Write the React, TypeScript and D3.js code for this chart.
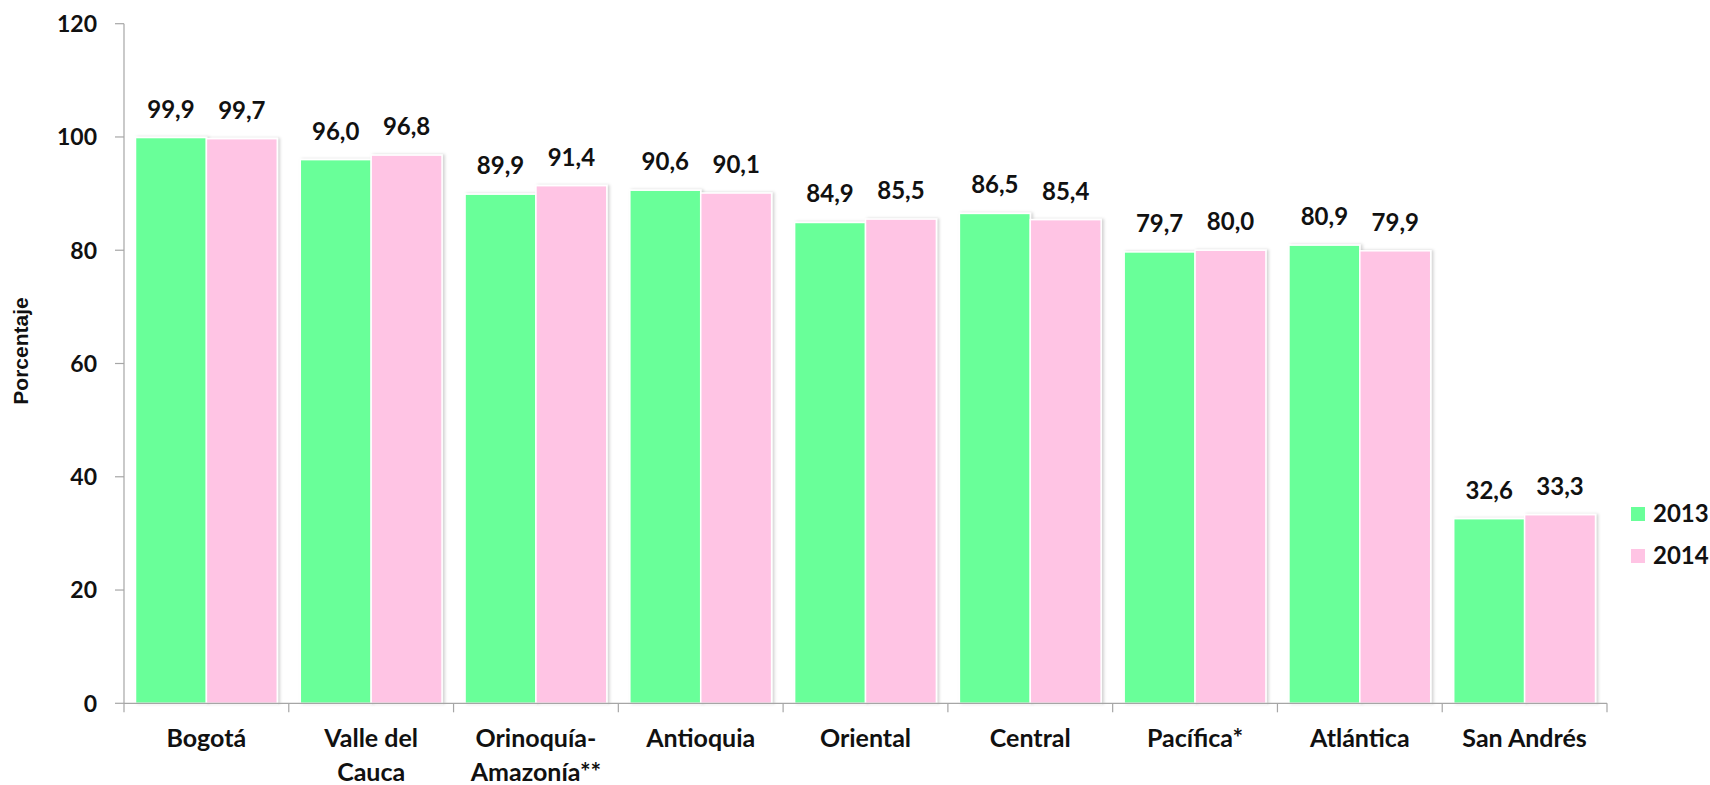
import React from "react";
import * as d3 from "d3";

const categories: string[][] = [
  ["Bogotá"],
  ["Valle del", "Cauca"],
  ["Orinoquía-", "Amazonía**"],
  ["Antioquia"],
  ["Oriental"],
  ["Central"],
  ["Pacífica*"],
  ["Atlántica"],
  ["San Andrés"],
];
const series = ["2013", "2014"];
const values2013 = [99.9, 96.0, 89.9, 90.6, 84.9, 86.5, 79.7, 80.9, 32.6];
const values2014 = [99.7, 96.8, 91.4, 90.1, 85.5, 85.4, 80.0, 79.9, 33.3];
const yTicks = [0, 20, 40, 60, 80, 100, 120];
const colors = ["#69ff99", "#ffc4e4"];

const W = 1710;
const H = 785;
const left = 124;
const right = 1607;
const top = 23.7;
const bottom = 703.3;
const FONT = "Lato, 'Open Sans', sans-serif";

export default function App() {
  const keys = categories.map((c) => c.join(" "));
  const x = d3.scaleBand<string>().domain(keys).range([left, right]);
  const y = d3.scaleLinear().domain([0, 120]).range([bottom, top]);
  const inner = d3
    .scaleBand<string>()
    .domain(series)
    .range([11.5, x.bandwidth() - 11.5]);
  const data = [values2013, values2014];
  const fmt = (v: number) => v.toFixed(1).replace(".", ",");
  const axisColor = "#a6a6a6";

  return (
    <svg
      width={W}
      height={H}
      style={{ position: "absolute", left: 0, top: 0, background: "#fff" }}
    >
      <defs>
        <filter id="sh" x="-10%" y="-10%" width="130%" height="120%">
          <feDropShadow dx="2" dy="0" stdDeviation="1.5" floodColor="#000" floodOpacity="0.18" />
        </filter>
      </defs>
      {keys.map((k, i) => (
        <g key={k}>
          {series.map((s, si) => {
            const v = data[si][i];
            const bx = (x(k) as number) + (inner(s) as number);
            return (
              <g key={s}>
                <rect
                  x={bx}
                  y={y(v)}
                  width={inner.bandwidth()}
                  height={bottom - y(v)}
                  fill={colors[si]}
                  stroke="#fff"
                  strokeWidth={1.5}
                  filter="url(#sh)"
                />
                <text
                  x={bx + inner.bandwidth() / 2}
                  y={y(v) - 20}
                  textAnchor="middle"
                  fontFamily={FONT}
                  fontWeight="bold"
                  fontSize={24}
                  fill="#111"
                >
                  {fmt(v)}
                </text>
              </g>
            );
          })}
        </g>
      ))}
      <line x1={left} x2={left} y1={top} y2={bottom} stroke={axisColor} strokeWidth={1.2} />
      {yTicks.map((t) => (
        <g key={t}>
          <line x1={left - 9} x2={left} y1={y(t)} y2={y(t)} stroke={axisColor} strokeWidth={1.2} />
          <text
            x={97}
            y={y(t)}
            dy="0.36em"
            textAnchor="end"
            fontFamily={FONT}
            fontWeight="bold"
            fontSize={23}
            fill="#111"
          >
            {t}
          </text>
        </g>
      ))}
      <line x1={left} x2={right} y1={bottom} y2={bottom} stroke={axisColor} strokeWidth={1.2} />
      {keys.map((k) => (
        <line
          key={"t" + k}
          x1={x(k) as number}
          x2={x(k) as number}
          y1={bottom}
          y2={bottom + 9}
          stroke={axisColor}
          strokeWidth={1.2}
        />
      ))}
      <line x1={right} x2={right} y1={bottom} y2={bottom + 9} stroke={axisColor} strokeWidth={1.2} />
      {categories.map((lines, i) => (
        <text
          key={"c" + i}
          textAnchor="middle"
          fontFamily={FONT}
          fontWeight="bold"
          fontSize={25}
          fill="#111"
        >
          {lines.map((ln, li) => (
            <tspan key={li} x={(x(keys[i]) as number) + x.bandwidth() / 2} y={747 + li * 34}>
              {ln}
            </tspan>
          ))}
        </text>
      ))}
      <text
        transform="translate(28,351) rotate(-90)"
        textAnchor="middle"
        fontFamily="'Liberation Sans', Arial, sans-serif"
        fontWeight="bold"
        fontSize={21}
        fill="#111"
      >
        Porcentaje
      </text>
      {series.map((s, si) => (
        <g key={"l" + s}>
          <rect x={1631} y={507 + si * 42} width={14} height={14} fill={colors[si]} />
          <text
            x={1653}
            y={522 + si * 42}
            fontFamily={FONT}
            fontWeight="bold"
            fontSize={24}
            fill="#111"
          >
            {s}
          </text>
        </g>
      ))}
    </svg>
  );
}
